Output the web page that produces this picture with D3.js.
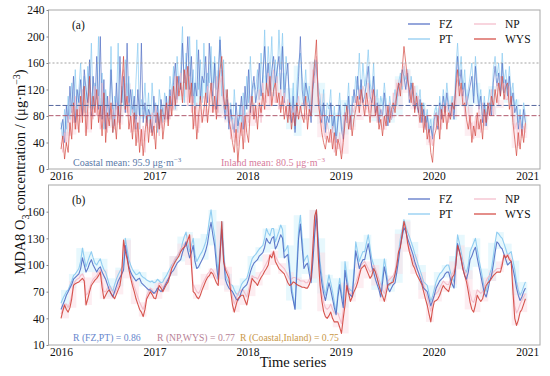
<!DOCTYPE html>
<html><head><meta charset="utf-8">
<script src="https://cdn.jsdelivr.net/npm/d3@7"></script>
<style>
body{margin:0;background:#fff}
svg{display:block}
svg text{font-family:'Liberation Serif','Times New Roman',Times,serif}
</style>
</head><body>
<svg id="chart" width="550" height="376"></svg>
<script>
// ---------------- DATA ----------------
const startDate = new Date(2016, 0, 1);
const stepDays = 7;
const seriesNames = ["FZ", "PT", "NP", "WYS"];
const xTickYears = [2016, 2017, 2018, 2019, 2020, 2021];
const yTicksA = [0, 40, 80, 120, 160, 200, 240];
const yTicksB = [10, 40, 70, 100, 130, 160];
const coastalMean = 95.9;
const inlandMean = 80.5;
const thresholdLine = 160;

// Panel (a): daily MDA8 O3 (sampled weekly)
const dailyPT = [70,45,90,60,110,75,130,95,150,80,120,160,95,140,85,155,110,190,90,130,105,200,80,145,60,120,95,75,185,55,110,90,190,70,125,95,165,110,140,80,120,70,135,190,60,105,90,130,75,115,60,130,85,100,55,120,95,70,115,100,85,140,110,155,90,170,120,150,215,100,175,120,200,110,150,90,195,120,165,100,190,115,145,130,185,95,170,120,150,200,110,165,85,120,70,100,60,120,75,55,95,70,115,80,140,100,170,110,130,120,150,105,175,130,210,120,185,140,200,110,165,130,210,150,205,120,170,140,110,85,130,60,125,160,175,140,110,150,95,125,85,140,165,150,125,110,80,120,60,100,90,120,55,95,45,80,115,70,55,100,90,130,70,110,100,140,120,175,110,160,125,145,180,130,115,160,95,120,80,110,95,130,100,75,110,85,100,120,95,130,145,120,155,135,150,110,140,120,100,115,95,120,80,100,70,90,60,75,50,85,95,70,110,85,120,95,130,100,90,110,85,150,190,140,170,120,150,100,120,140,160,110,170,130,100,120,80,110,75,100,120,90,150,170,140,160,120,175,130,150,120,155,110,130,95,105,70,90,60,100,80];
const dailyFZ = [60,75,40,95,70,125,85,140,70,120,100,135,80,150,120,100,165,80,140,95,170,90,200,75,135,60,110,80,150,95,65,130,80,170,100,140,85,190,95,120,85,110,60,120,80,190,70,100,65,90,80,55,110,70,95,60,105,85,75,110,75,120,95,130,160,105,140,120,190,130,145,200,120,170,100,130,110,180,105,140,130,170,100,190,140,110,160,90,130,195,150,100,75,105,60,90,70,55,100,65,80,110,60,125,90,150,85,120,140,100,120,160,110,140,185,130,160,110,150,170,130,150,170,120,185,100,140,160,90,70,110,55,95,140,200,120,95,130,115,100,70,120,145,165,110,95,70,100,55,80,70,100,60,80,40,70,95,60,45,85,70,110,60,90,120,100,140,105,135,100,110,130,155,110,100,140,85,100,70,90,80,115,85,65,95,75,90,100,110,125,130,150,140,120,145,100,130,110,90,100,85,105,70,90,60,80,55,65,45,75,85,60,100,75,110,85,115,90,80,100,75,130,170,125,150,110,130,95,110,125,140,100,155,115,90,110,70,100,65,90,100,80,130,155,125,145,110,160,115,135,110,140,95,115,85,95,60,80,55,90,70];
const dailyWYS = [30,50,15,40,25,70,45,100,60,90,55,110,70,125,50,95,140,60,110,85,120,70,95,50,115,40,85,65,100,55,75,45,95,60,120,170,90,110,60,80,45,85,35,70,25,60,20,55,80,40,75,50,65,30,85,60,90,45,70,100,65,110,80,125,95,140,110,130,100,150,120,155,100,130,60,95,45,80,110,70,90,115,70,100,130,85,110,75,120,150,170,110,90,120,75,60,40,25,60,10,45,70,30,80,55,40,90,110,75,95,60,100,85,115,90,130,110,140,95,120,130,100,115,85,110,75,95,70,100,60,85,65,100,75,95,80,70,110,60,90,80,130,160,195,100,80,55,40,30,50,40,60,30,55,20,45,35,15,40,70,95,60,80,50,75,90,110,85,120,100,80,115,95,70,100,120,80,95,60,75,50,80,65,95,70,90,100,85,115,130,110,150,185,160,135,120,100,130,85,110,90,70,100,55,80,45,60,25,10,50,60,80,45,90,70,95,60,85,75,100,90,120,150,110,130,95,100,75,60,80,40,65,50,85,60,75,45,90,70,100,80,110,95,120,100,130,110,140,105,125,130,90,110,70,45,20,55,30,60,40,70];
const dailyNP = [40,25,55,35,80,50,95,70,110,60,100,70,120,85,105,60,115,90,75,125,80,110,60,130,70,95,55,110,75,90,60,100,70,85,140,150,120,85,100,55,90,60,75,40,80,35,65,25,70,60,55,85,45,95,70,50,80,60,95,75,100,75,120,90,140,100,125,145,110,130,150,95,140,85,110,65,100,55,90,105,110,80,125,95,105,130,90,140,85,130,140,95,120,80,100,45,75,40,80,35,70,50,95,40,85,70,110,80,100,70,95,120,70,130,105,100,145,95,130,150,100,140,90,120,95,115,80,105,75,95,70,95,80,110,85,100,95,75,100,80,100,150,130,170,120,70,80,60,45,70,55,40,65,25,50,30,55,25,60,85,70,90,60,95,85,110,95,120,100,125,115,90,130,85,120,95,110,70,95,90,80,60,95,80,100,75,115,95,130,110,130,125,160,140,150,105,120,95,125,100,110,85,80,75,60,70,40,50,35,70,85,65,95,60,100,80,100,70,95,80,110,95,135,125,110,120,80,110,95,60,70,45,80,60,95,55,100,65,85,75,95,120,80,110,130,95,140,120,130,105,105,125,80,95,60,70,35,75,50,65,55];

// Panel (b): smoothed series (weekly)
const smoothPT = [57,62,66,70,72,77,82,88,90,93,96,104,119,108,98,104,110,115,108,102,100,104,107,100,95,92,85,78,74,70,78,84,89,93,97,100,130,118,106,100,95,92,89,90,92,88,86,85,83,82,81,82,80,81,84,82,80,81,85,88,92,96,100,102,106,110,113,115,125,132,137,125,115,122,130,112,104,108,112,115,120,126,135,150,162,145,133,110,92,120,149,120,90,84,80,78,77,72,68,66,72,78,81,83,85,92,100,107,110,112,115,118,120,122,130,141,136,133,141,141,126,132,138,145,140,115,118,122,100,77,65,51,100,140,156,130,104,108,111,98,85,110,140,162,130,104,88,75,66,78,89,80,70,58,47,70,85,70,59,104,88,74,72,70,95,126,115,104,110,115,115,125,134,120,107,100,92,85,78,70,88,107,95,80,77,80,85,88,100,115,130,140,151,144,137,132,126,120,113,107,100,94,88,81,79,77,68,59,65,73,81,86,90,92,95,98,100,100,92,85,81,110,134,125,115,104,95,92,100,115,120,125,130,118,106,96,85,74,70,80,90,96,110,125,137,135,132,130,124,118,111,113,115,105,95,81,72,66,70,76,81];
const smoothFZ = [50,55,60,66,70,74,78,84,86,88,90,96,108,100,92,96,102,106,100,96,92,96,98,92,88,84,78,72,68,64,70,76,82,86,90,94,122,110,98,92,88,85,82,84,85,80,78,76,74,72,72,70,68,70,74,72,70,72,76,80,84,88,92,94,98,102,104,106,114,120,126,116,108,114,122,104,96,98,102,106,110,116,124,138,148,134,122,100,84,110,140,110,84,78,74,72,70,66,62,60,64,70,74,76,78,84,92,98,102,104,106,110,112,114,120,130,126,124,130,132,118,122,128,134,130,108,110,112,92,70,60,50,90,130,146,120,96,100,102,90,80,104,134,158,124,96,80,68,60,70,80,72,62,52,44,64,78,64,52,94,80,68,66,64,88,116,106,96,102,106,106,116,124,112,98,92,84,78,72,64,80,98,88,74,70,74,78,80,92,106,122,132,142,138,130,124,118,112,104,98,92,86,80,74,72,70,62,54,60,66,74,78,82,84,86,90,92,92,84,78,74,100,124,116,106,96,88,84,92,106,110,116,120,108,98,88,78,68,64,72,82,88,100,114,126,124,120,118,112,106,100,102,104,96,86,74,66,60,64,70,74];
const smoothWYS = [40,48,55,50,47,52,62,77,79,80,81,83,85,82,55,62,70,77,80,83,85,88,92,75,62,66,70,72,68,65,62,67,72,77,90,128,115,107,95,85,77,70,62,56,50,47,42,50,62,66,70,67,63,62,70,77,74,70,74,78,81,88,96,100,104,107,110,115,118,120,122,128,134,100,70,68,64,62,66,72,77,82,86,88,92,90,85,80,77,110,149,104,95,90,85,70,55,47,55,62,64,66,66,60,55,65,75,85,82,80,77,82,86,89,93,96,100,111,108,115,104,100,96,94,92,90,85,80,77,78,81,80,78,77,76,75,75,74,74,78,85,120,155,162,110,77,60,48,42,40,43,47,40,36,36,36,30,23,40,55,77,68,59,64,70,74,80,88,96,98,100,95,90,85,88,96,92,85,77,70,65,59,68,77,79,80,81,90,100,115,120,135,149,140,125,115,108,100,96,90,86,82,78,70,62,55,45,36,50,59,60,62,66,72,77,74,72,70,78,86,89,100,122,115,107,95,88,81,70,58,50,47,55,66,62,59,62,70,77,80,82,85,88,90,92,92,92,100,111,108,111,106,104,70,40,32,38,47,50,56,62];
const smoothNP = [45,50,56,56,52,58,66,78,82,84,85,88,90,86,66,68,74,80,84,86,88,92,95,82,70,70,74,76,72,70,68,72,76,82,94,124,116,108,98,90,82,76,70,64,58,54,50,56,66,70,74,72,68,68,74,80,78,74,78,82,85,92,98,104,108,110,114,118,120,124,126,130,132,106,78,74,70,68,72,78,82,86,90,92,96,94,90,86,82,112,140,108,98,94,90,78,64,56,62,68,70,72,72,68,64,72,80,88,86,86,84,88,92,94,98,102,106,112,112,116,110,106,102,100,98,96,92,88,84,84,86,86,84,84,82,82,82,80,80,84,90,122,150,158,114,84,68,58,52,50,52,56,50,46,46,46,40,34,50,62,80,74,66,70,76,80,86,92,100,102,104,100,96,92,94,100,96,90,84,78,72,68,74,82,84,86,88,94,104,116,122,134,146,140,128,118,112,106,100,96,92,88,84,78,70,64,56,48,58,66,68,70,74,78,82,80,78,78,84,90,94,104,120,116,110,100,94,88,78,68,60,58,64,72,70,68,70,76,82,86,88,90,92,94,96,96,96,104,112,110,112,108,106,80,54,46,50,56,60,64,68];

const corrTexts = ["R (FZ,PT) = 0.86", "R (NP,WYS) = 0.77", "R (Coastal,Inland) = 0.75"];

// ---------------- STYLE ----------------
const colors = {FZ: "#4f6cc4", PT: "#86c8f0", NP: "#f3b9c8", WYS: "#d2443c"};
const left = 48.5, right = 540;
const panelA = {top: 10, bottom: 169};
const panelB = {top: 185, bottom: 345};
const serif = "'Liberation Serif','Times New Roman',Times,serif";

const svg = d3.select("#chart");
const dateAt = i => d3.timeDay.offset(startDate, i * stepDays);

const x = d3.scaleTime()
  .domain([new Date(2015, 10, 13), new Date(2021, 1, 20)])
  .range([left, right]);
const yA = d3.scaleLinear().domain([0, 240]).range([panelA.bottom, panelA.top]);
const yB = d3.scaleLinear().domain([10, 190]).range([panelB.bottom, panelB.top]);

const defs = svg.append("defs");
[["clipA", panelA], ["clipB", panelB]].forEach(([id, p]) => {
  defs.append("clipPath").attr("id", id).append("rect")
    .attr("x", left).attr("y", p.top).attr("width", right - left).attr("height", p.bottom - p.top);
});

// monthly shaded blocks (range of smoothed coastal / inland series)
function monthlyBlocks(a, b) {
  const m = new Map();
  a.forEach((v, i) => {
    const d = dateAt(i);
    const k = d.getFullYear() * 12 + d.getMonth();
    if (!m.has(k)) m.set(k, []);
    m.get(k).push(v, b[i]);
  });
  return Array.from(m, ([k, vals]) => ({
    x0: new Date(Math.floor(k / 12), k % 12, 1),
    x1: new Date(Math.floor(k / 12), k % 12 + 1, 1),
    lo: d3.min(vals), hi: d3.max(vals)
  }));
}
const coastBlocks = monthlyBlocks(smoothFZ, smoothPT);
const inlandBlocks = monthlyBlocks(smoothNP, smoothWYS);

function drawPanel(p, y, clipId, data, ticks, lw, opac) {
  const g = svg.append("g");
  const plot = g.append("g").attr("clip-path", `url(#${clipId})`);
  plot.selectAll("rect.cb").data(coastBlocks).join("rect")
    .attr("x", d => x(d.x0)).attr("width", d => x(d.x1) - x(d.x0))
    .attr("y", d => y(d.hi)).attr("height", d => Math.max(0, y(d.lo) - y(d.hi)))
    .attr("fill", "#d4f3fb").attr("opacity", 0.55);
  plot.selectAll("rect.ib").data(inlandBlocks).join("rect")
    .attr("x", d => x(d.x0)).attr("width", d => x(d.x1) - x(d.x0))
    .attr("y", d => y(d.hi)).attr("height", d => Math.max(0, y(d.lo) - y(d.hi)))
    .attr("fill", "#fcdbe4").attr("opacity", 0.5);
  const line = d3.line().x((d, i) => x(dateAt(i))).y(d => y(d));
  data.forEach(([name, vals]) => {
    plot.append("path").datum(vals).attr("d", line)
      .attr("fill", "none").attr("stroke", colors[name])
      .attr("stroke-width", lw).attr("stroke-opacity", opac)
      .attr("stroke-linejoin", "round");
  });
  g.append("rect").attr("x", left).attr("y", p.top)
    .attr("width", right - left).attr("height", p.bottom - p.top)
    .attr("fill", "none").attr("stroke", "#a8a8a8").attr("stroke-width", 1);
  const ya = g.append("g").attr("transform", `translate(${left},0)`)
    .call(d3.axisLeft(y).tickValues(ticks).tickSize(2).tickPadding(2).tickFormat(d3.format("d")));
  const xa = g.append("g").attr("transform", `translate(0,${p.bottom})`)
    .call(d3.axisBottom(x).tickValues(xTickYears.map(v => new Date(v, 0, 1)))
      .tickSize(0).tickPadding(3).tickFormat(d3.timeFormat("%Y")));
  [ya, xa].forEach(a => {
    a.attr("font-family", serif).attr("font-size", 11.5);
    a.select(".domain").remove();
    a.selectAll("line").attr("stroke", "#888");
    a.selectAll("text").attr("fill", "#111");
  });
  return g;
}

const gA = drawPanel(panelA, yA, "clipA",
  [["PT", dailyPT], ["FZ", dailyFZ], ["NP", dailyNP], ["WYS", dailyWYS]], yTicksA, 0.8, 0.85);

const refG = gA.append("g").attr("clip-path", "url(#clipA)");
refG.append("line").attr("x1", left).attr("x2", right)
  .attr("y1", yA(thresholdLine)).attr("y2", yA(thresholdLine))
  .attr("stroke", "#999").attr("stroke-width", 0.9).attr("stroke-dasharray", "2,2");
refG.append("line").attr("x1", left).attr("x2", right)
  .attr("y1", yA(coastalMean)).attr("y2", yA(coastalMean))
  .attr("stroke", "#56689e").attr("stroke-width", 1).attr("stroke-dasharray", "5,2");
refG.append("line").attr("x1", left).attr("x2", right)
  .attr("y1", yA(inlandMean)).attr("y2", yA(inlandMean))
  .attr("stroke", "#b05a6e").attr("stroke-width", 1).attr("stroke-dasharray", "5,2");

drawPanel(panelB, yB, "clipB",
  [["PT", smoothPT], ["NP", smoothNP], ["FZ", smoothFZ], ["WYS", smoothWYS]], yTicksB, 1.1, 0.9);

svg.append("text").attr("x", 72).attr("y", 29).attr("font-size", 11.5).attr("fill", "#111").text("(a)");
svg.append("text").attr("x", 72).attr("y", 204).attr("font-size", 11.5).attr("fill", "#111").text("(b)");

function supText(sel, parts) {
  parts.forEach(p => {
    const t = sel.append("tspan").text(p.t);
    if (p.sup) t.attr("dy", -4).attr("font-size", 7);
  });
}
const tA1 = svg.append("text").attr("x", 73).attr("y", 165.5).attr("font-size", 10).attr("fill", "#5a7aa8");
supText(tA1, [{t: "Coastal mean: " + coastalMean.toFixed(1) + " μg·m"}, {t: "−3", sup: true}]);
const tA2 = svg.append("text").attr("x", 221).attr("y", 165.5).attr("font-size", 10).attr("fill", "#d77c9c");
supText(tA2, [{t: "Inland mean: " + inlandMean.toFixed(1) + " μg·m"}, {t: "−3", sup: true}]);

const corrColors = ["#6585cc", "#b77f96", "#c99848"];
const corrX = [73, 157, 240];
corrTexts.forEach((t, i) => {
  svg.append("text").attr("x", corrX[i]).attr("y", 341).attr("font-size", 9.7)
    .attr("fill", corrColors[i]).text(t);
});

function legend(y0, rowGap) {
  const items = [
    {n: "FZ", col: 0, row: 0}, {n: "PT", col: 0, row: 1},
    {n: "NP", col: 1, row: 0}, {n: "WYS", col: 1, row: 1}
  ];
  const colX = [408, 474];
  items.forEach(it => {
    const yy = y0 + it.row * rowGap;
    const xx = colX[it.col];
    svg.append("line").attr("x1", xx).attr("x2", xx + 22).attr("y1", yy).attr("y2", yy)
      .attr("stroke", colors[it.n]).attr("stroke-width", 1.2);
    svg.append("text").attr("x", xx + 31).attr("y", yy + 4).attr("font-size", 11.5)
      .attr("fill", "#111").text(it.n);
  });
}
legend(24, 15);
legend(199, 15);

const yl = svg.append("text").attr("transform", "translate(25,172) rotate(-90)")
  .attr("text-anchor", "middle").attr("font-size", 14.5).attr("fill", "#111");
yl.append("tspan").text("MDA8 O");
yl.append("tspan").attr("dy", 3.5).attr("font-size", 10).text("3");
yl.append("tspan").attr("dy", -3.5).text(" concentration / (μg·m");
yl.append("tspan").attr("dy", -5).attr("font-size", 10).text("−3");
yl.append("tspan").attr("dy", 5).text(")");

svg.append("text").attr("x", 293).attr("y", 367).attr("text-anchor", "middle")
  .attr("font-size", 14.5).attr("fill", "#111").text("Time series");
</script>
</body></html>
